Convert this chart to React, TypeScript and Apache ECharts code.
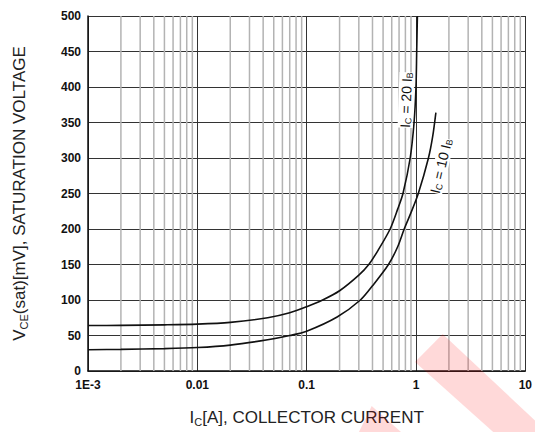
import React, { useEffect, useRef } from "react";
import * as echarts from "echarts";

// ---- data ----
const xTickLabels = ["1E-3", "0.01", "0.1", "1", "10"];
const minorGridX = [
  0.002, 0.003, 0.004, 0.005, 0.006, 0.007, 0.008, 0.009,
  0.02, 0.03, 0.04, 0.05, 0.06, 0.07, 0.08, 0.09,
  0.2, 0.3, 0.4, 0.5, 0.6, 0.7, 0.8, 0.9,
  2, 3, 4, 5, 6, 7, 8, 9,
];
// Ic = 20 Ib
const ic20Current = [0.001, 0.002, 0.005, 0.01, 0.02, 0.044, 0.07, 0.1, 0.14, 0.2, 0.3, 0.37, 0.45, 0.58, 0.68, 0.76, 0.885, 0.96, 1.0, 1.015, 1.03];
const ic20Voltage = [64, 64.3, 65, 66, 68.5, 75, 82, 90.5, 100, 113, 135, 150, 170, 200, 228, 250, 300, 350, 400, 450, 500];
// Ic = 10 Ib
const ic10Current = [0.001, 0.002, 0.005, 0.01, 0.02, 0.044, 0.07, 0.1, 0.19, 0.31, 0.4, 0.56, 0.68, 0.78, 0.9, 1.05, 1.3, 1.42, 1.52];
const ic10Voltage = [30, 30.5, 31.5, 33, 36.5, 44, 50, 56, 76, 100, 120, 150, 175, 200, 223, 250, 300, 330, 364];

const FONT = "'Liberation Sans', Arial, sans-serif";

export default function App() {
  const ref = useRef<HTMLDivElement>(null);
  useEffect(() => {
    if (!ref.current) return;
    const chart = echarts.init(ref.current, undefined, { renderer: "svg" });
    const pairs = (xs: number[], ys: number[]) => xs.map((x, i) => [x, ys[i]]);
    const subRich = { s: { fontFamily: FONT, fontSize: 11, color: "#222", verticalAlign: "bottom", padding: [8, 0, 0, 0] } };
    const option: any = {
      animation: false,
      backgroundColor: "#ffffff",
      grid: { left: 88, right: 5, top: 16, bottom: 58, containLabel: false },
      xAxis: {
        type: "log",
        logBase: 10,
        min: 0.001,
        max: 10,
        name: "I{s|C}[A], COLLECTOR CURRENT",
        nameLocation: "middle",
        nameGap: 37,
        nameTextStyle: { fontFamily: FONT, fontSize: 17, color: "#222", rich: subRich },
        axisLine: { show: true, lineStyle: { color: "#111", width: 1.5 } },
        axisTick: { show: false },
        minorTick: { show: false },
        splitLine: { show: true, lineStyle: { color: "#333", width: 1 } },
        axisLabel: {
          fontFamily: FONT,
          fontWeight: "bold",
          fontSize: 12,
          color: "#111",
          margin: 8,
          formatter: (v: number) => {
            const k = Math.round(Math.log10(v)) + 3;
            return xTickLabels[k] ?? "";
          },
        },
      },
      yAxis: {
        type: "value",
        min: 0,
        max: 500,
        interval: 50,
        name: "V{s|CE}(sat)[mV], SATURATION VOLTAGE",
        nameLocation: "middle",
        nameGap: 59,
        nameRotate: 90,
        nameTextStyle: { fontFamily: FONT, fontSize: 17, color: "#222", rich: subRich },
        axisLine: { show: true, lineStyle: { color: "#111", width: 1.5 } },
        axisTick: { show: false },
        splitLine: { show: true, lineStyle: { color: "#333", width: 1 } },
        axisLabel: { fontFamily: FONT, fontWeight: "bold", fontSize: 12, color: "#111", margin: 7 },
      },
      series: [
        {
          type: "custom",
          z: 1,
          silent: true,
          data: minorGridX.map((v) => [v]),
          renderItem: (_p: any, api: any) => {
            const x = api.value(0);
            const a = api.coord([x, 0]);
            const b = api.coord([x, 500]);
            return {
              type: "line",
              shape: { x1: a[0], y1: a[1], x2: b[0], y2: b[1] },
              style: { stroke: "#b3b3b3", lineWidth: 1.5 },
            };
          },
        },
        {
          type: "line",
          name: "Ic=20Ib",
          z: 3,
          data: pairs(ic20Current, ic20Voltage),
          showSymbol: false,
          smooth: 0.3,
          lineStyle: { color: "#111", width: 1.6 },
          silent: true,
        },
        {
          type: "line",
          name: "Ic=10Ib",
          z: 3,
          data: pairs(ic10Current, ic10Voltage),
          showSymbol: false,
          smooth: 0.3,
          lineStyle: { color: "#111", width: 1.6 },
          silent: true,
        },
      ],
      graphic: [
        {
          type: "text",
          x: 406,
          y: 100,
          rotation: (88 * Math.PI) / 180,
          z: 10,
          style: {
            text: "I{s|C} = 20 I{s|B}",
            fontFamily: FONT,
            fontSize: 14,
            fill: "#111",
            align: "center",
            verticalAlign: "middle",
            backgroundColor: "#fff",
            rich: { s: { fontFamily: FONT, fontSize: 9, fill: "#111", verticalAlign: "bottom", padding: [6, 0, 0, 0] } },
          },
        },
        {
          type: "text",
          x: 441,
          y: 166,
          rotation: (77 * Math.PI) / 180,
          z: 10,
          style: {
            text: "I{s|C} = 10 I{s|B}",
            fontFamily: FONT,
            fontSize: 14,
            fill: "#111",
            align: "center",
            verticalAlign: "middle",
            backgroundColor: "#fff",
            rich: { s: { fontFamily: FONT, fontSize: 9, fill: "#111", verticalAlign: "bottom", padding: [6, 0, 0, 0] } },
          },
        },
        {
          type: "polygon",
          z: 20,
          silent: true,
          shape: { points: [[442.7, 334], [415, 362], [520, 456], [560, 444]] },
          style: { fill: "rgba(255,0,0,0.15)" },
        },
        {
          type: "polygon",
          z: 20,
          silent: true,
          shape: { points: [[371.7, 406], [352, 446], [404, 446], [410, 440]] },
          style: { fill: "rgba(255,0,0,0.15)" },
        },
      ],
    };
    chart.setOption(option);
    return () => chart.dispose();
  }, []);
  return (
    <div
      ref={ref}
      style={{ position: "fixed", left: 0, top: 0, width: 535, height: 432, background: "#fff" }}
    />
  );
}
